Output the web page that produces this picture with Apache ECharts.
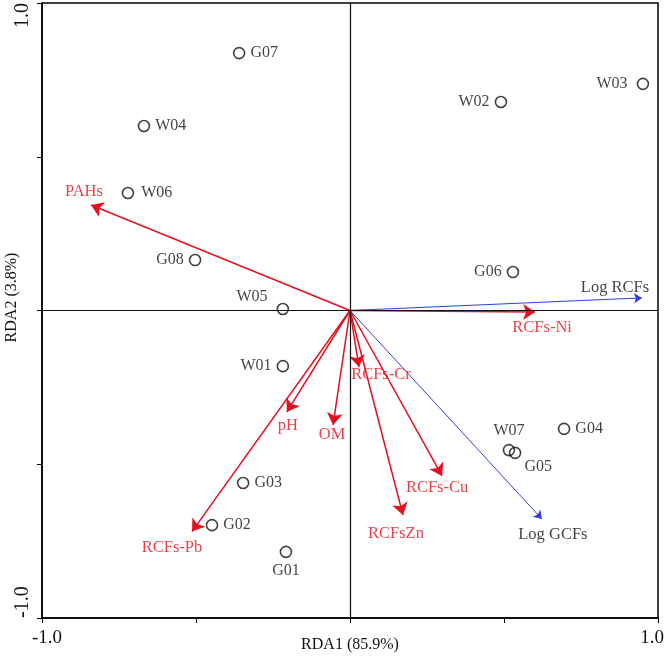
<!DOCTYPE html>
<html>
<head>
<meta charset="utf-8">
<script src="https://cdn.jsdelivr.net/npm/echarts@6/dist/echarts.min.js"></script>
<style>
html,body{margin:0;padding:0;background:#fff;}
#chart{width:666px;height:656px;}
</style>
</head>
<body>
<div id="chart"></div>
<script>
// ---- data ----
const sampleNames = ['G07','W04','W06','G08','W05','W01','G03','G02','G01','W02','W03','G06','G04','W07','G05'];
const sampleX = [-0.360,-0.669,-0.721,-0.503,-0.218,-0.218,-0.347,-0.448,-0.208,0.490,0.951,0.529,0.695,0.516,0.536];
const sampleY = [0.837,0.600,0.382,0.164,0.005,-0.181,-0.561,-0.698,-0.785,0.678,0.737,0.125,-0.385,-0.454,-0.463];

const envNames = ['PAHs','RCFs-Ni','RCFs-Cr','pH','OM','RCFs-Cu','RCFsZn','RCFs-Pb'];
const envX = [-0.841,0.601,0.029,-0.205,-0.055,0.299,0.172,-0.513];
const envY = [0.343,-0.005,-0.184,-0.330,-0.372,-0.538,-0.665,-0.719];

const respNames = ['Log RCFs','Log GCFs'];
const respX = [0.948,0.623];
const respY = [0.041,-0.678];

const tickLabels = {'-1':'-1.0','1':'1.0'};
const xTitle = 'RDA1 (85.9%)';
const yTitle = 'RDA2 (3.8%)';

// ---- label placement (style, not data) ----
const sampleLabelPos = {
  G07:['right',[0,0]], W04:['right',[0,0]], W06:['right',[2,0]], G08:['left',[0,0]],
  W05:['left',[-4,-12]], W01:['left',[0,0]], G03:['right',[0,0]], G02:['right',[0,0]],
  G01:['bottom',[0,0]], W02:['left',[0,0]], W03:['left',[-4,0]], G06:['left',[0,0]],
  G04:['right',[0,0]], W07:['top',[0,0]], G05:['right',[-2,14]]
};
const envLabelOffset = {
  'PAHs':[-7,-13], 'RCFs-Ni':[7,16], 'RCFs-Cr':[22,8], 'pH':[1,14], 'OM':[-1,10],
  'RCFs-Cu':[-5,12], 'RCFsZn':[-7,19], 'RCFs-Pb':[-20,16]
};
const respLabelOffset = {'Log RCFs':[-27,-10], 'Log GCFs':[11,16]};

const FONT = 'Liberation Serif';
const RED = '#e3101f';
const RED_TXT = '#e6101c';
const BLUE = '#2f3fd6';

function arrows(names, xs, ys) {
  return names.map((n,i)=>({name:n, coords:[[0,0],[xs[i],ys[i]]]}));
}
function tipLabels(names, xs, ys, offs, color) {
  return names.map((n,i)=>({
    name:n, value:[xs[i],ys[i]],
    label:{show:true, position:'inside', offset:offs[n], formatter:n,
      color:color, fontFamily:FONT, fontSize:16.5}
  }));
}

const chart = echarts.init(document.getElementById('chart'), null, {renderer:'canvas'});

const axisCommon = {
  type:'value', min:-1, max:1, interval:0.5,
  axisLine:{show:true, onZero:false, lineStyle:{color:'#000', width:1.5}},
  axisTick:{show:true, inside:false, length:5, lineStyle:{color:'#000', width:1}},
  splitLine:{show:false},
  nameLocation:'middle',
  nameMoveOverlap:false,
  nameTextStyle:{fontFamily:FONT, fontSize:16, color:'#111'}
};

chart.setOption({
  animation:false,
  backgroundColor:'#fff',
  grid:{left:42, right:8, top:3, bottom:38, show:true, borderColor:'#000', borderWidth:1.5,
    containLabel:false, outerBoundsMode:'none'},
  xAxis:Object.assign({}, axisCommon, {
    position:'bottom', name:xTitle, nameGap:19,
    axisLabel:{show:true, margin:11, fontFamily:FONT, fontSize:19, color:'#111',
      rich:{lo:{fontFamily:FONT, fontSize:19, color:'#111', padding:[0,0,0,10]},
            hi:{fontFamily:FONT, fontSize:19, color:'#111', padding:[0,12,0,0]}},
      formatter:v=> v===-1 ? '{lo|'+tickLabels['-1']+'}' : (v===1 ? '{hi|'+tickLabels['1']+'}' : '')}
  }),
  yAxis:Object.assign({}, axisCommon, {
    position:'left', name:yTitle, nameGap:22,
    nameTextStyle:{fontFamily:FONT, fontSize:16, color:'#111', padding:[0,0,0,26]},
    axisLabel:{show:true, margin:9, rotate:90, fontFamily:FONT, fontSize:20, color:'#111',
      alignMinLabel:'left', alignMaxLabel:'right',
      formatter:v=>tickLabels[String(v)]||''}
  }),
  series:[
    {
      type:'scatter', name:'samples', z:5,
      symbol:'circle', symbolSize:11,
      itemStyle:{color:'rgba(0,0,0,0)', borderColor:'#111', borderWidth:1.6},
      data:sampleNames.map((n,i)=>({
        name:n, value:[sampleX[i],sampleY[i]],
        label:{show:true, position:sampleLabelPos[n][0], offset:sampleLabelPos[n][1],
          distance:5, formatter:n, color:'#111', fontFamily:FONT, fontSize:16}
      })),
      markLine:{
        silent:true, symbol:['none','none'], animation:false,
        label:{show:false},
        lineStyle:{color:'#111', width:1.2, type:'solid'},
        data:[{xAxis:0},{yAxis:0}]
      }
    },
    {
      type:'lines', coordinateSystem:'cartesian2d', z:4,
      symbol:['none','arrow'], symbolSize:[8,12],
      lineStyle:{color:RED, width:1.5, opacity:1},
      data:arrows(envNames, envX, envY)
    },
    {
      type:'lines', coordinateSystem:'cartesian2d', z:4,
      symbol:['none','arrow'], symbolSize:[6,8],
      lineStyle:{color:BLUE, width:1, opacity:1},
      data:arrows(respNames, respX, respY)
    },
    {
      type:'scatter', symbol:'circle', symbolSize:1, z:6, silent:true,
      itemStyle:{color:'rgba(0,0,0,0)'},
      data:tipLabels(envNames, envX, envY, envLabelOffset, RED_TXT)
    },
    {
      type:'scatter', symbol:'circle', symbolSize:1, z:6, silent:true,
      itemStyle:{color:'rgba(0,0,0,0)'},
      data:tipLabels(respNames, respX, respY, respLabelOffset, '#111')
    }
  ]
});
</script>
</body>
</html>
